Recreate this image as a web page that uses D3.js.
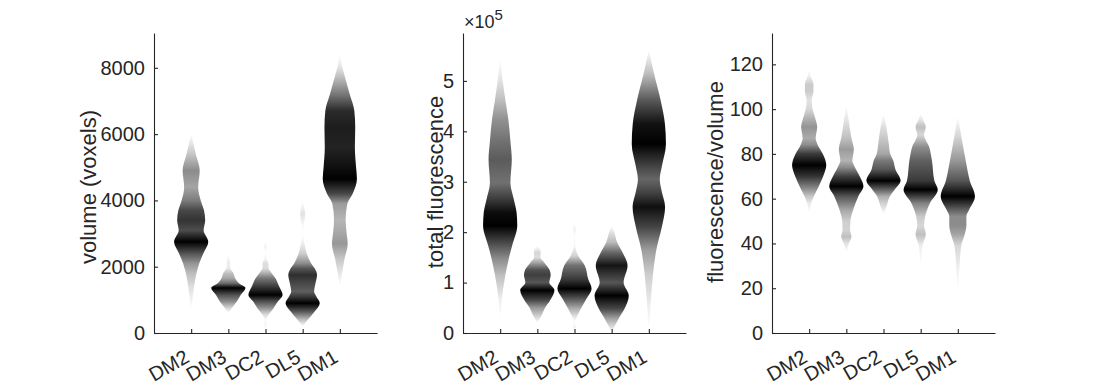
<!DOCTYPE html>
<html>
<head>
<meta charset="utf-8">
<script src="https://cdnjs.cloudflare.com/ajax/libs/d3/7.8.5/d3.min.js"></script>
<style>
    body { margin: 0; background: #fff; }
    text { font-family: "Liberation Sans", Arial, sans-serif; fill: #262626; }
    .axis text { font-size: 20px; }
    .axis path, .axis line { stroke: #262626; stroke-width: 1.1px; }
    .ylabel { font-size: 22px; }
</style>
</head>
<body>
<div id="chart"></div>
<script>

var categories = ["DM2", "DM3", "DC2", "DL5", "DM1"];

// density profiles: [value, relative density 0..1]
var volumeDensity = [
    // DM2
    [[700,0],[900,0.05],[1400,0.17],[1800,0.31],[2100,0.47],[2400,0.71],[2750,1.0],[3100,0.73],[3400,0.82],[3700,0.75],[4000,0.56],[4400,0.41],[4900,0.5],[5400,0.27],[6000,0]],
    // DM3
    [[600,0],[750,0.2],[950,0.5],[1150,0.72],[1360,1.0],[1500,0.62],[1650,0.4],[1800,0.3],[1950,0.12],[2050,0.1],[2150,0.1],[2250,0.06],[2420,0]],
    // DC2
    [[100,0],[250,0.07],[400,0.04],[550,0.18],[750,0.47],[950,0.72],[1150,1.0],[1400,0.8],[1650,0.58],[1850,0.3],[1950,0.18],[2100,0.17],[2250,0.06],[2450,0.03],[2600,0.08],[2770,0]],
    // DL5
    [[200,0],[400,0.3],[650,0.7],[900,1.0],[1100,0.8],[1250,0.67],[1500,0.75],[1750,0.84],[1950,0.7],[2100,0.5],[2400,0.24],[2700,0.1],[2950,0.02],[3200,0.04],[3600,0.15],[3850,0.06],[4000,0]],
    // DM1
    [[1400,0],[1800,0.13],[2200,0.26],[2700,0.46],[3000,0.4],[3400,0.34],[3900,0.44],[4200,0.75],[4650,1.0],[5000,0.95],[5600,0.88],[6200,0.9],[6700,0.85],[7200,0.58],[7650,0.34],[8000,0.15],[8400,0]]
];

// total fluorescence, in units of 10^5
var fluorDensity = [
    [[0.25,0],[0.68,0.1],[1.14,0.3],[1.47,0.5],[1.73,0.7],[2.13,1.0],[2.39,0.96],[2.65,0.8],[2.98,0.6],[3.44,0.68],[3.8,0.6],[4.23,0.48],[4.63,0.3],[5.0,0.15],[5.45,0]],
    [[0.2,0],[0.35,0.25],[0.5,0.45],[0.65,0.75],[0.85,1.0],[1.0,0.7],[1.15,0.78],[1.25,0.72],[1.4,0.4],[1.5,0.18],[1.6,0.2],[1.73,0]],
    [[0.02,0],[0.12,0.08],[0.22,0.02],[0.32,0.14],[0.48,0.37],[0.68,0.7],[0.88,1.0],[1.07,0.8],[1.34,0.6],[1.53,0.22],[1.73,0.05],[1.9,0.03],[2.06,0.08],[2.2,0]],
    [[0.02,0],[0.28,0.4],[0.48,0.75],[0.74,1.0],[1.0,0.7],[1.34,0.93],[1.6,0.63],[1.8,0.32],[2.0,0.15],[2.13,0]],
    [[0.02,0],[0.55,0.1],[1.15,0.24],[1.65,0.44],[2.1,0.76],[2.5,0.95],[2.8,0.76],[3.05,0.64],[3.3,0.76],[3.75,1.0],[4.15,0.94],[4.6,0.7],[5.15,0.3],[5.62,0]]
];

var ratioDensity = [
    [[53,0],[58,0.12],[61,0.27],[65,0.53],[70,0.82],[75,1.0],[80,0.8],[84,0.5],[87,0.38],[92,0.47],[96,0.35],[100,0.2],[104,0.15],[108,0.25],[111,0.25],[115,0.08],[118,0]],
    [[36,0],[40,0.15],[43,0.3],[46,0.22],[50,0.24],[55,0.4],[61,0.7],[65.5,1.0],[70,0.78],[74,0.5],[77,0.35],[82,0.44],[87,0.3],[95,0.14],[102,0]],
    [[53,0],[56,0.15],[58,0.23],[61,0.37],[64.5,0.7],[68,1.0],[73,0.7],[77,0.57],[80,0.4],[85,0.3],[92,0.17],[98,0]],
    [[30,0],[35,0.06],[39,0.1],[44,0.3],[48,0.2],[52,0.26],[58,0.54],[64,1.0],[68,0.8],[77,0.66],[83,0.5],[88.5,0.2],[92,0.3],[95,0.15],[98,0]],
    [[19,0],[25,0.06],[30,0.1],[39,0.2],[44.5,0.42],[48,0.5],[52,0.5],[55,0.66],[61,1.0],[68,0.7],[77,0.46],[88,0.2],[97,0]]
];

var volumeTicks = [0, 2000, 4000, 6000, 8000];
var fluorTicks = [0, 1, 2, 3, 4, 5];
var ratioTicks = [0, 20, 40, 60, 80, 100, 120];


var svg = d3.select("#chart").append("svg")
    .attr("width", 1101)
    .attr("height", 386);

var defs = svg.append("defs");


/*
 * ViolinChart - one panel of shaded violins
 */

ViolinChart = function(_svg, _data, _config){
    this.svg = _svg;
    this.data = _data;
    this.config = _config;

    this.initVis();
}

ViolinChart.prototype.initVis = function(){
    var vis = this;

    vis.left = vis.config.left;
    vis.width = 223;
    vis.top = 33;
    vis.bottom = 333;

    vis.x = d3.scaleLinear()
        .domain([0, categories.length + 1])
        .range([vis.left, vis.left + vis.width]);

    vis.y = d3.scaleLinear()
        .domain([0, vis.config.yMax])
        .range([vis.bottom, vis.top]);

    vis.g = vis.svg.append("g");

    vis.updateVis();
}

ViolinChart.prototype.updateVis = function(){
    var vis = this;

    var half = 0.46 * (vis.x(1) - vis.x(0));
    var shade = d3.interpolateRgb("#ffffff", "#000000");

    vis.data.forEach(function(profile, i){
        var cx = vis.x(i + 1);
        var id = vis.config.name + "-" + i;
        var v0 = profile[0][0], v1 = profile[profile.length - 1][0];

        var grad = defs.append("linearGradient")
            .attr("id", id)
            .attr("gradientUnits", "userSpaceOnUse")
            .attr("x1", 0).attr("x2", 0)
            .attr("y1", vis.y(v0)).attr("y2", vis.y(v1));

        grad.selectAll("stop")
            .data(profile)
            .enter()
            .append("stop")
            .attr("offset", d => (d[0] - v0) / (v1 - v0))
            .attr("stop-color", d => shade(Math.pow(d[1], 1.15)));

        var area = d3.area()
            .curve(d3.curveMonotoneY)
            .y(d => vis.y(d[0]))
            .x0(d => cx - d[1] * half)
            .x1(d => cx + d[1] * half);

        vis.g.append("path")
            .datum(profile)
            .attr("d", area)
            .attr("fill", "url(#" + id + ")");
    });

    // axes
    var yAxis = d3.axisLeft(vis.y)
        .tickValues(vis.config.ticks)
        .tickFormat(d3.format("d"))
        .tickSize(-4)
        .tickSizeOuter(0)
        .tickPadding(9);

    vis.g.append("g")
        .attr("class", "axis")
        .attr("transform", "translate(" + vis.left + ",0)")
        .call(yAxis);

    var xAxis = d3.axisBottom(vis.x)
        .tickValues(d3.range(1, categories.length + 1))
        .tickFormat(d => categories[d - 1])
        .tickSize(-4)
        .tickSizeOuter(0);

    var xg = vis.g.append("g")
        .attr("class", "axis")
        .attr("transform", "translate(0," + vis.bottom + ")")
        .call(xAxis);

    xg.selectAll(".tick text")
        .attr("x", 0)
        .attr("y", 0)
        .attr("dy", 0)
        .attr("text-anchor", "end")
        .attr("transform", "translate(-1,28) rotate(-30)");

    vis.g.append("text")
        .attr("class", "ylabel")
        .attr("text-anchor", "middle")
        .attr("transform", "translate(" + vis.config.labelX + "," + vis.config.labelY + ") rotate(-90)")
        .text(vis.config.label);

    if (vis.config.exponent) {
        var t = vis.g.append("text")
            .attr("x", vis.left + 1)
            .attr("y", 28)
            .style("font-size", "18px");
        t.append("tspan").text("\u00d710");
        t.append("tspan")
            .attr("dy", -8)
            .style("font-size", "15px")
            .text(vis.config.exponent);
    }
}


var volumeChart = new ViolinChart(svg, volumeDensity,
    {name: "vol", left: 154, yMax: 9050, ticks: volumeTicks, label: "volume (voxels)", labelX: 96, labelY: 187});

var fluorChart = new ViolinChart(svg, fluorDensity,
    {name: "fl", left: 463, yMax: 5.95, ticks: fluorTicks, label: "total fluorescence", labelX: 443, labelY: 182, exponent: "5"});

var ratioChart = new ViolinChart(svg, ratioDensity,
    {name: "ratio", left: 772, yMax: 134, ticks: ratioTicks, label: "fluorescence/volume", labelX: 723, labelY: 182});

</script>
</body>
</html>
